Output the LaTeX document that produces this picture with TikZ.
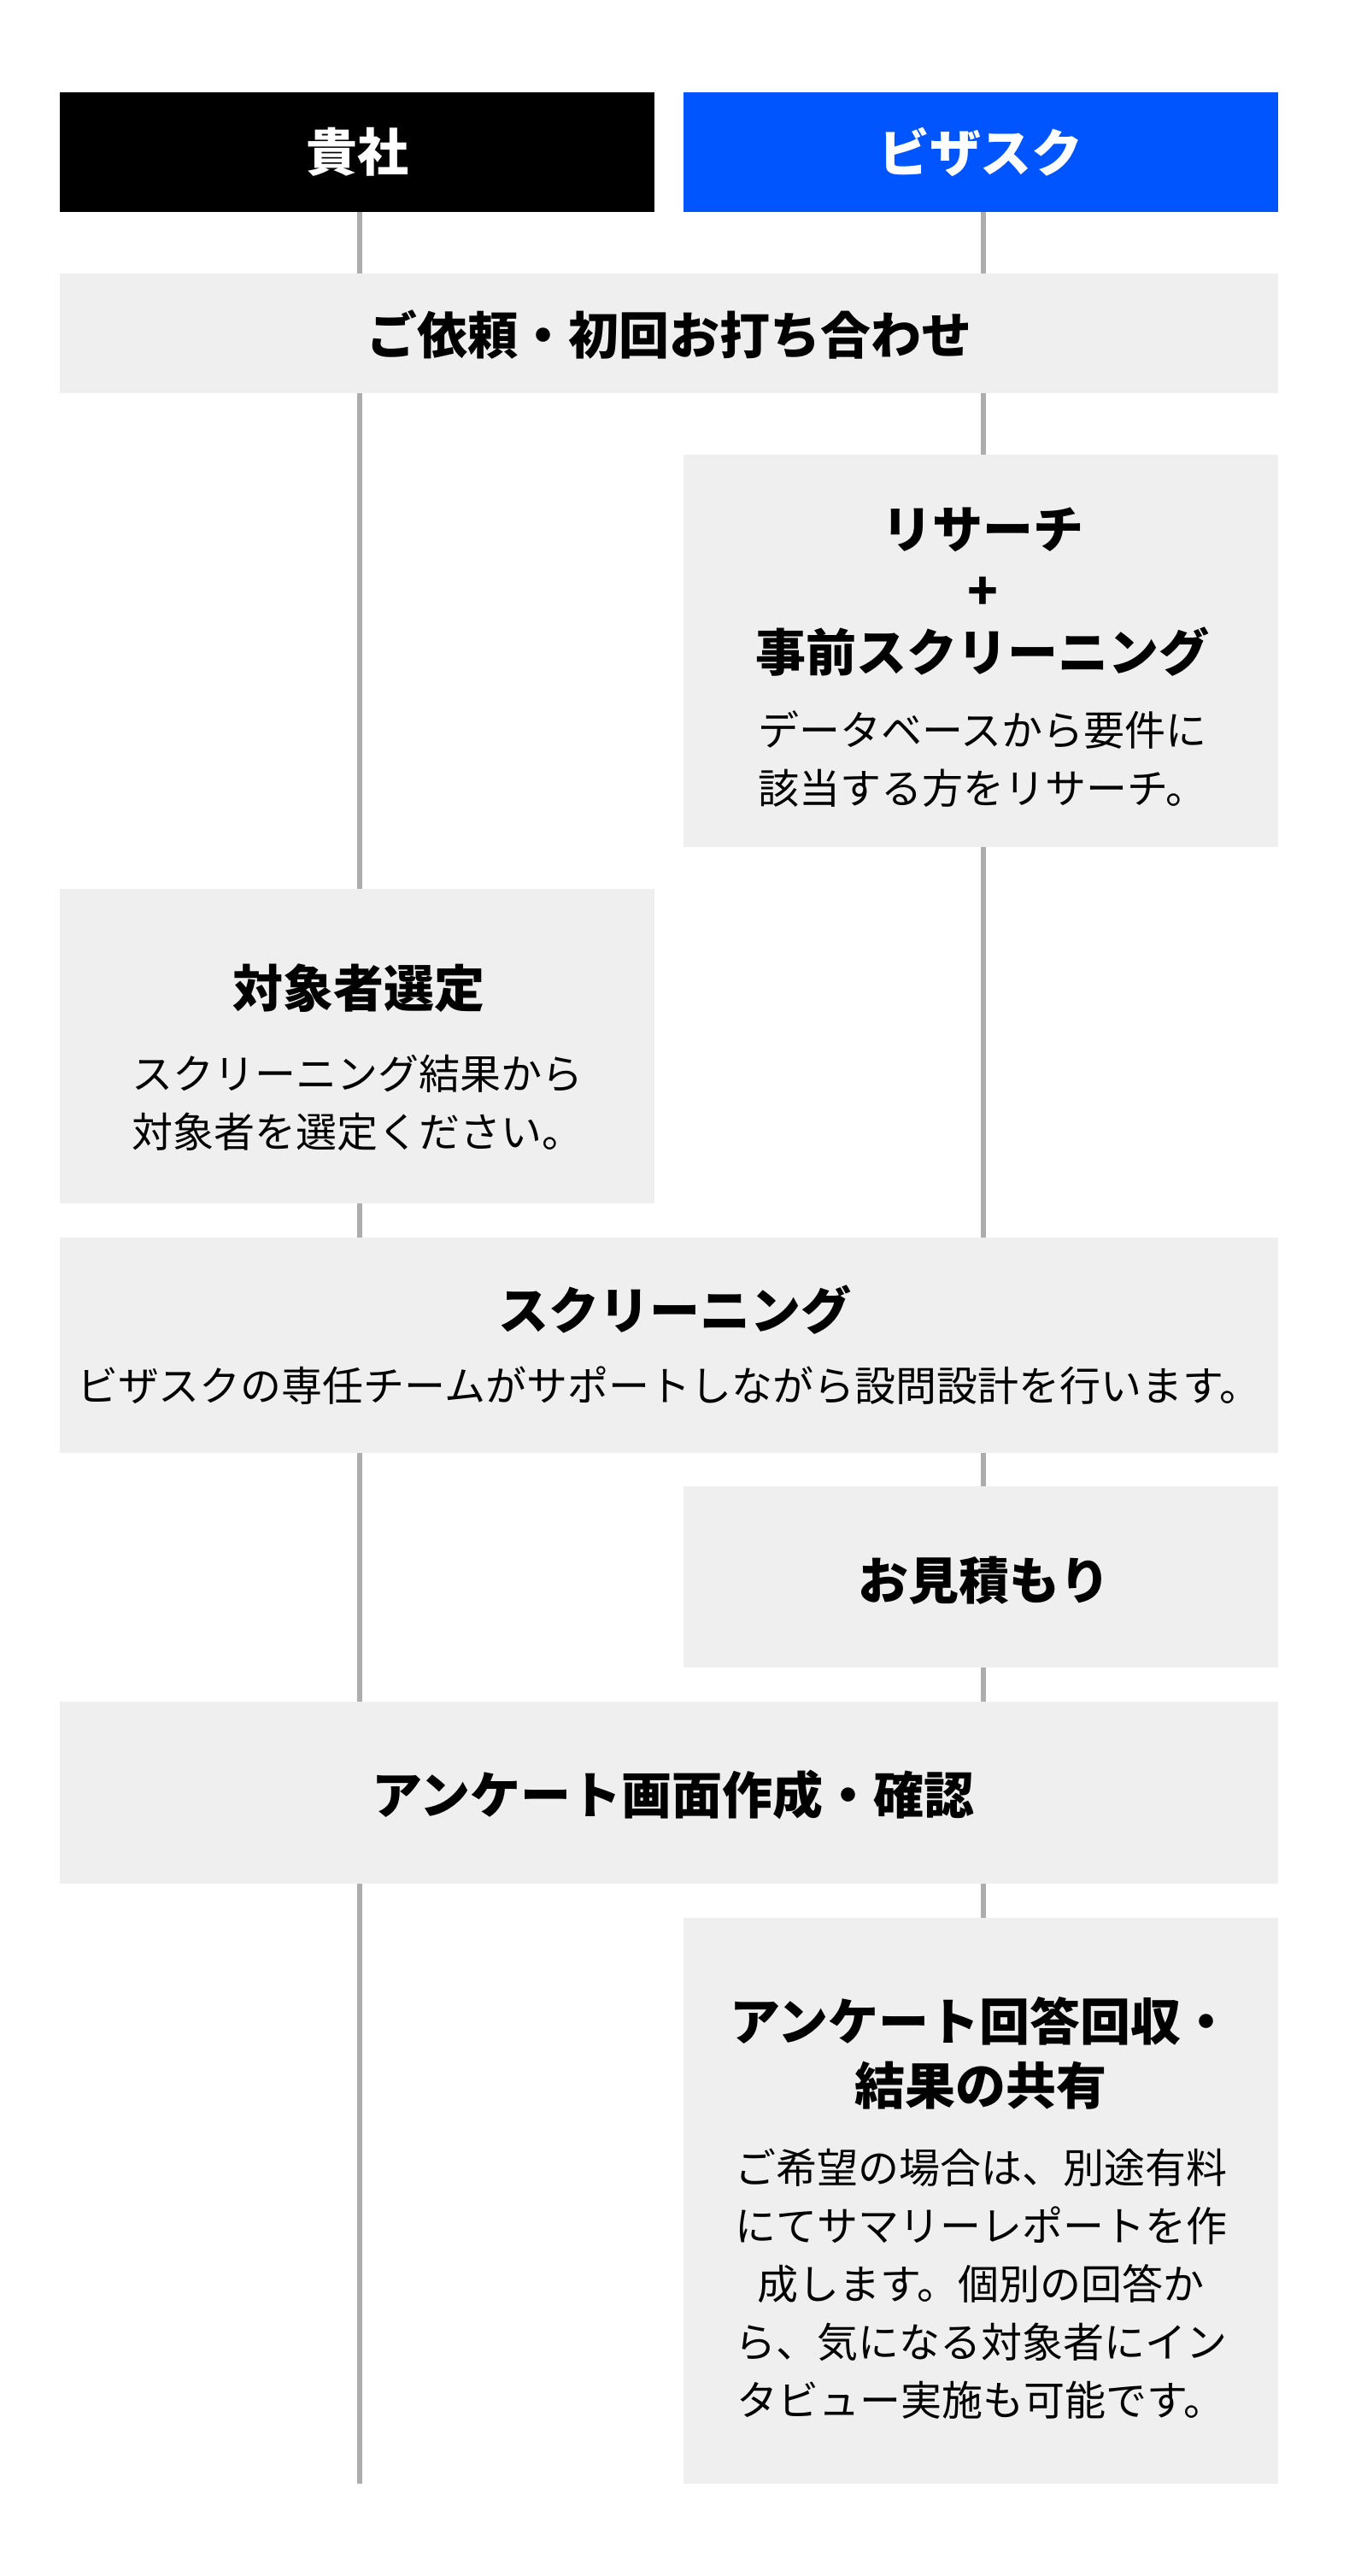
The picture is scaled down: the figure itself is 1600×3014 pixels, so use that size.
\documentclass[tikz,border=0pt]{standalone}
\usepackage{fontspec}
\setmainfont{Noto Sans CJK JP}
\usepackage{tikz}

\definecolor{bizblue}{RGB}{0,85,255}
\definecolor{boxgray}{RGB}{239,239,239}
\definecolor{linegray}{RGB}{173,173,173}

\begin{document}
\begin{tikzpicture}[x=0.5pt,y=0.5pt,yscale=-1,xscale=1,
  headbox/.style={fill=#1, text=white, font=\bfseries\fontsize{30}{36}\selectfont, minimum width=348pt, minimum height=70pt, inner sep=0pt},
  widebox/.style={fill=boxgray, minimum width=713pt, inner sep=0pt},
  halfbox/.style={fill=boxgray, minimum width=348pt, inner sep=0pt},
  stepttl/.style={font=\bfseries\fontsize{29.5}{37}\selectfont, align=center, inner sep=0pt},
  steptxt/.style={font=\fontsize{24}{34}\selectfont, align=center, inner sep=0pt},
  timeline/.style={draw=linegray, line width=3pt}]
%set diagram size to the reference
\useasboundingbox (0,0) rectangle (1600,3014);

%Header
\node [headbox=black] (kisha) at (418,178) {貴社};
\node [headbox=bizblue] (bizasuku) at (1148,178) {ビザスク};

%Time lines, under the boxes
\coordinate (kishaend) at (421,2906);
\coordinate (bizend) at (1151,2244);
\draw [timeline] ([xshift=1.5pt]kisha.south) -- (kishaend);
\draw [timeline] ([xshift=1.5pt]bizasuku.south) -- (bizend);

%Shape: Rectangle
\node [widebox, minimum height=70pt] (irai) at (783,390) {};
\node [halfbox, minimum height=229.5pt] (research) at (1148,761.5) {};
\node [halfbox, minimum height=184pt] (sentei) at (418,1224) {};
\node [widebox, minimum height=126pt] (screening) at (783,1574) {};
\node [halfbox, minimum height=106pt] (mitsumori) at (1148,1845) {};
\node [widebox, minimum height=106.5pt] (sakusei) at (783,2097.5) {};
\node [halfbox, minimum height=331pt] (kaishu) at (1148,2575) {};

% Text Node
\node [stepttl] (iraittl) at (783,391) {ご依頼・初回お打ち合わせ};
% Text Node
\node [stepttl, font=\bfseries\fontsize{29.5}{36}\selectfont] (researchttl) at (1150,693) {リサーチ\\+\\事前スクリーニング};
\node [steptxt] (researchtxt) at (1150,888) {データベースから要件に\\該当する方をリサーチ。};
% Text Node
\node [stepttl] (sentittl) at (420,1156) {対象者選定};
\node [steptxt] (sentitxt) at (418,1290) {スクリーニング結果から\\対象者を選定ください。};
% Text Node
\node [stepttl] (screeningttl) at (790,1533) {スクリーニング};
\node [steptxt] (screeningtxt) at (783,1621) {ビザスクの専任チームがサポートしながら設問設計を行います。};
% Text Node
\node [stepttl] (mitsumorittl) at (1152,1849) {お見積もり};
% Text Node
\node [stepttl] (sakuseittl) at (788,2100) {アンケート画面作成・確認};
% Text Node
\node [stepttl, font=\bfseries\fontsize{29.5}{37.5}\selectfont] (kaishuttl) at (1148,2402.5) {アンケート回答回収・\\結果の共有};
\node [steptxt] (kaishutxt) at (1148,2672.5) {ご希望の場合は、別途有料\\にてサマリーレポートを作\\成します。個別の回答か\\ら、気になる対象者にイン\\タビュー実施も可能です。};
\end{tikzpicture}
\end{document}
